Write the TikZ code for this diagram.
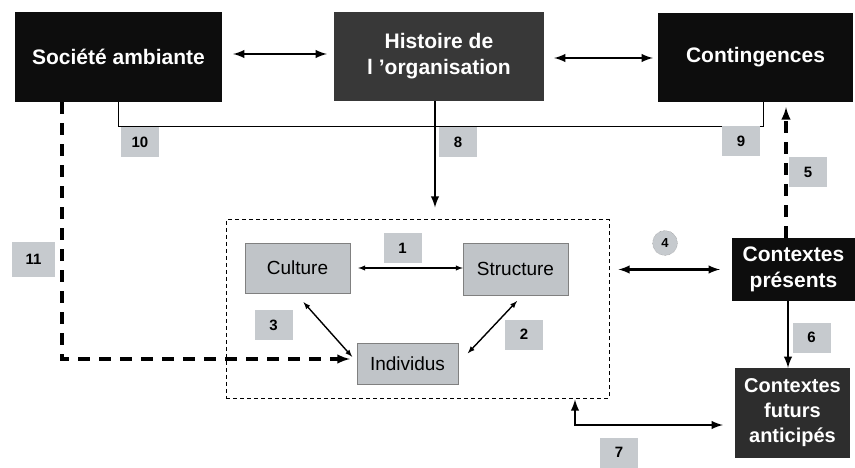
\documentclass[tikz,border=0pt]{standalone}
\usepackage{fontspec}
\setmainfont{Liberation Sans}
\usepackage{tikz}
\usetikzlibrary{arrows}

\definecolor{numgray}{RGB}{198,202,206}
\definecolor{boxgray}{RGB}{192,196,200}
\definecolor{histgray}{RGB}{56,56,56}

\tikzset{
  darkbox/.style={fill=black!95, text=white, inner sep=0pt, align=center,
    font=\bfseries\fontsize{21}{26}\selectfont},
  greybox/.style={fill=boxgray, draw=gray, inner sep=0pt,
    font=\fontsize{19}{22}\selectfont},
  numbox/.style={fill=numgray, inner sep=0pt, minimum width=38pt, minimum height=30pt,
    font=\bfseries\fontsize{15}{18}\selectfont},
  biglink/.style={latex-latex, line width=2.8pt},
  smalllink/.style={latex-latex, line width=1.4pt},
}

\begin{document}
\begin{tikzpicture}[x=1pt,y=-1pt]
  \useasboundingbox (0,0) rectangle (855,468);

  % top row
  \node[darkbox, minimum width=207pt, minimum height=90pt] (soc) at (118.5,57) {Société ambiante};
  \node[darkbox, fill=histgray, minimum width=210pt, minimum height=89pt] (hist) at (439,56.5) {Histoire de\\l 'organisation};
  \node[darkbox, minimum width=195pt, minimum height=89pt] (cont) at (755.5,57.5) {Contingences};

  % right column
  \node[darkbox, minimum width=123pt, minimum height=63pt] (pres) at (793.5,269.5) {Contextes\\présents};
  \node[darkbox, fill=histgray!80!black, minimum width=115pt, minimum height=90pt,
    font=\bfseries\fontsize{20}{25}\selectfont] (fut) at (792.5,413) {Contextes\\futurs\\anticipés};

  % the organisation
  \node[draw, line width=1pt, dash pattern=on 4pt off 3pt, minimum width=383pt, minimum height=178pt] (frame) at (417.5,309) {};
  \node[greybox, minimum width=105pt, minimum height=50pt] (cult) at (297.5,268) {Culture};
  \node[greybox, minimum width=105pt, minimum height=52pt] (struct) at (515.5,269) {Structure};
  \node[greybox, minimum width=101pt, minimum height=41pt] (indiv) at (407.5,363.5) {Individus};

  \draw[thin] (soc.south) -- ++(0,24) -| ([xshift=7.5pt]cont.south);

  \foreach \n/\x/\y in {10/140/142, 8/458/142, 9/741/141, 5/808/172, 1/402.5/248,
    3/273.5/325, 2/524/334.5, 6/811.5/337.5, 7/619/452.5}
    \node[numbox] (n\n) at (\x,\y) {\n};
  \node[numbox, minimum width=43pt, minimum height=35pt] (n11) at (33.5,259.5) {11};
  \node[circle, fill=numgray, draw=gray, densely dotted, inner sep=0pt, minimum size=25pt,
    font=\bfseries\fontsize{13}{15}\selectfont] (n4) at (665,243) {4};

  \draw[biglink, shorten <=11pt, shorten >=7pt] (soc.east |- 0,54) -- (hist.west |- 0,54);
  \draw[biglink, shorten <=10pt, shorten >=5pt] (hist.east |- 0,58) -- (cont.west |- 0,58);
  \draw[-latex, line width=2.8pt, shorten >=12pt] ([xshift=-4pt]hist.south) -- ([xshift=-4pt]hist.south |- frame.north);
  \draw[-latex, line width=3.2pt, dash pattern=on 12pt off 9pt, shorten >=7pt]
    ([xshift=-56.5pt]soc.south) |- ([yshift=4.5pt]indiv.west);
  \draw[-latex, line width=3.2pt, dash pattern=on 12pt off 9pt, shorten >=5pt]
    ([xshift=-7.5pt]pres.north) -- ([xshift=-7.5pt]pres.north |- cont.south);
  \draw[-latex, line width=2.8pt] ([xshift=-5.5pt]pres.south) -- ([xshift=-4.5pt]fut.north);
  \draw[biglink, shorten <=9pt, shorten >=12pt] (pres.west -| frame.east) -- (pres.west);
  \draw[biglink, shorten <=1pt, shorten >=12pt] ([xshift=157.5pt]frame.south) |- ([yshift=-12pt]fut.west);

  \draw[smalllink, shorten <=8pt] (cult.east) -- (struct.west |- cult.east);
  \draw[smalllink, shorten <=12pt, shorten >=7pt] ([xshift=-2pt]cult.south) -- ([yshift=1.5pt]indiv.west);
  \draw[smalllink, shorten <=8pt, shorten >=14pt] ([xshift=7pt]struct.south) -- (indiv.east);
\end{tikzpicture}
\end{document}
